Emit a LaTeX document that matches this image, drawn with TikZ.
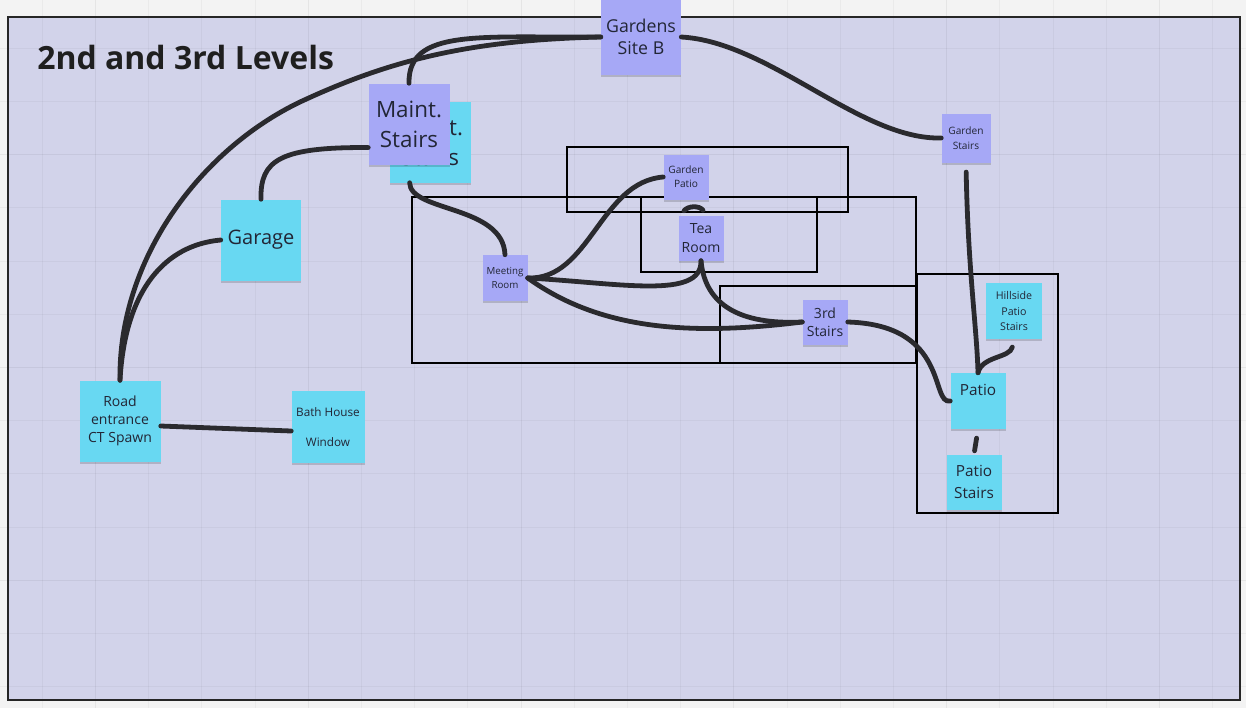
\documentclass[tikz,border=0pt]{standalone}
\usepackage{fontspec}
\setmainfont{Open Sans}
\usetikzlibrary{calc}
\definecolor{bgout}{RGB}{243,243,243}
\definecolor{bgin}{RGB}{210,211,234}
\definecolor{lav}{RGB}{166,168,246}
\definecolor{cyn}{RGB}{104,216,242}
\definecolor{ink}{RGB}{34,38,54}
\definecolor{wire}{RGB}{42,42,46}
\newcommand{\myfs}[2]{\fontsize{#1}{#2}\selectfont}
\tikzset{
  note/.style={draw=none, inner sep=0pt, align=center, text=ink,
    preaction={fill=black, fill opacity=0.16, transform canvas={yshift=-1.8pt}}},
  lavnote/.style={note, fill=lav},
  cynnote/.style={note, fill=cyn},
  wh/.style n args={2}{minimum width=#1*0.75pt, minimum height=#2*0.75pt},
  conn/.style={draw=wire, line width=3.6pt, line cap=round},
  zone/.style={draw=black, line width=0.8pt},
  minorgrid/.style={draw=black, draw opacity=0.035, line width=0.75pt},
  majorgrid/.style={draw=black, draw opacity=0.055, line width=0.8pt}
}
\begin{document}
\begin{tikzpicture}[x=0.75pt, y=-0.75pt]
\useasboundingbox (0,0) rectangle (1246,708);
\fill[bgout] (0,0) rectangle (1246,708);
\fill[bgin] (8,17) rectangle (1240,700);
\foreach \i in {0,...,23} {
  \pgfmathtruncatemacro{\r}{mod(\i+3,4)}
  \ifnum\r=0 \draw[majorgrid] (42.3+53.2*\i,0) -- (42.3+53.2*\i,708);
  \else \draw[minorgrid] (42.3+53.2*\i,0) -- (42.3+53.2*\i,708); \fi}
\foreach \j in {0,...,12} {
  \pgfmathtruncatemacro{\r}{mod(\j+2,4)}
  \ifnum\r=0 \draw[majorgrid] (0,48.3+53.2*\j) -- (1246,48.3+53.2*\j);
  \else \draw[minorgrid] (0,48.3+53.2*\j) -- (1246,48.3+53.2*\j); \fi}
\draw[black!85, line width=0.9pt] (8,17) rectangle (1240,700);

\node[anchor=base west, font=\bfseries\myfs{24}{28}, text=black!88, inner sep=0pt] (title) at (37,69) {2nd and 3rd Levels};

% zones
\draw[zone] (567,147) rectangle (848,212);
\draw[zone] (641,197) rectangle (817,272);
\draw[zone] (412,197) rectangle (916,363);
\draw[zone] (720,286) rectangle (916,363);
\draw[zone] (917,274) rectangle (1058,513);

% notes
\node[lavnote, wh={80}{75}, font=\myfs{13.3}{16.5}] (gsb) at (641,37) {Gardens\\Site B};
\node[cynnote, wh={81}{81}, font=\myfs{16.8}{22.5}] (msc) at (430,142) {Maint.\\Stairs};
\node[lavnote, wh={81}{81}, font=\myfs{16.8}{22.5}] (ms) at (409,124) {Maint.\\Stairs};
\node[cynnote, wh={80}{81}, font=\myfs{15}{18}] (gar) at (261,240) {Garage};
\node[lavnote, wh={45}{45}, font=\myfs{7.6}{10.7}] (gp) at (686,177) {Garden\\Patio};
\node[lavnote, wh={45}{45}, font=\myfs{10.5}{13.7}] (tr) at (701,238) {Tea\\Room};
\node[lavnote, wh={45}{46}, font=\myfs{7.3}{10}] (mr) at (505,278) {Meeting\\Room};
\node[lavnote, wh={45}{45}, font=\myfs{10.5}{13.7}] (ts) at (825,322) {3rd\\Stairs};
\node[lavnote, wh={49}{49}, font=\myfs{7.6}{11.3}] (gs) at (966,138) {Garden\\Stairs};
\node[cynnote, wh={56}{56}, font=\myfs{8}{11.8}] (hps) at (1014,311) {Hillside\\Patio\\Stairs};
\node[cynnote, wh={55}{56}, font=\myfs{11.5}{16.3}] (pat) at (978,401) {Patio\\\mbox{}};
\node[cynnote, wh={55}{55}, font=\myfs{11.5}{16.3}] (pst) at (974,482) {Patio\\Stairs};
\node[cynnote, wh={81}{81}, font=\myfs{10.5}{13.7}] (road) at (120,421) {Road\\entrance\\CT Spawn};
\node[cynnote, wh={73}{72}, font=\myfs{8.8}{11}] (bh) at (328,427) {Bath House\\[11pt]Window};

% connectors
\draw[conn] (gsb.west) .. controls (480,38) and (408,28) .. (ms.north);
\draw[conn] (gsb.west) .. controls (470,40) and (390,60) .. (300,102) .. controls (200,150) and (118,260) .. (road.north);
\draw[conn] (gsb.east) .. controls (770,42) and (860,140) .. (gs.west);
\draw[conn] (gar.north) .. controls (260,160) and (280,147) .. (ms.210);
\draw[conn] (gar.west) .. controls (165,245) and (125,290) .. (road.north);
\draw[conn] ($(msc.south west)!0.25!(msc.south east)$) .. controls (410,212) and (503,205) .. (mr.north);
\draw[conn] (mr.east) .. controls (590,280) and (600,182) .. (gp.west);
\draw[conn] (mr.east) .. controls (620,283) and (702,300) .. (tr.south);
\draw[conn] (tr.south) .. controls (705,305) and (740,325) .. (ts.west);
\draw[conn] (mr.east) .. controls (600,330) and (690,336) .. (ts.west);
\draw[conn] (ts.east) .. controls (950,325) and (930,405) .. (pat.west);
\draw[conn, shorten <=7pt] (gs.south) .. controls (968,270) and (977,330) .. (pat.north);
\draw[conn, shorten <=6pt] (hps.south) .. controls (1010,358) and (982,356) .. (pat.north);
\draw[conn, shorten <=6.75pt, shorten >=2.6pt] (pat.south) -- (pst.north);
\draw[conn] ($(road.east)+(0,5)$) -- ($(bh.west)+(0,4)$);
\draw[conn] ($(gp.south)+(-2,11)$) .. controls +(4,-5) and +(-4,-5) .. ($(tr.north)+(2,-5)$);
\end{tikzpicture}
\end{document}
